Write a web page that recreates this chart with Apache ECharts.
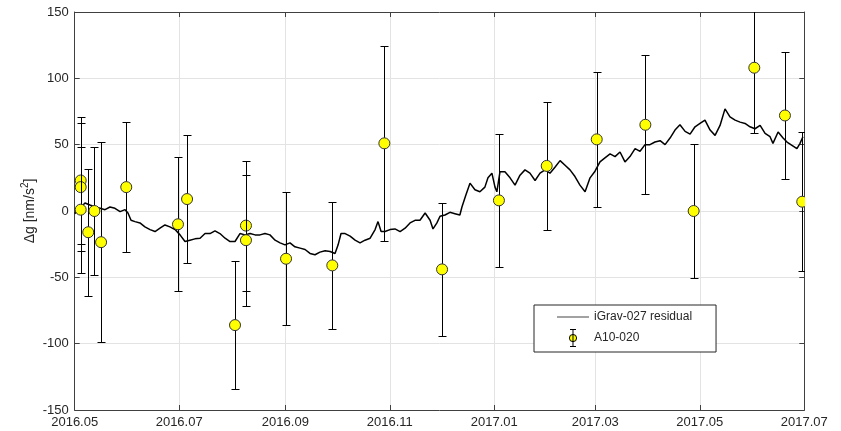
<!DOCTYPE html>
<html>
<head>
<meta charset="utf-8">
<script src="https://cdn.jsdelivr.net/npm/echarts@6/dist/echarts.min.js"></script>
<style>
  html, body { margin: 0; padding: 0; background: #fff; }
  #container { width: 841px; height: 431px; }
</style>
</head>
<body>
<div id="container"></div>
<script>
// days after 2016-05-01 and the iGrav-027 residual
const residualDays = [0, 3.1, 6, 8.9, 11.9, 14.8, 17.7, 20.6, 23.5, 26.5, 29.4, 31.1, 32.9, 35.2, 38.1, 41, 44, 46.9, 49.8, 52.7,
  55.6, 58.6, 61.5, 64.4, 67.3, 70.2, 73.2, 76.1, 79, 81.9, 84.8, 87.8, 90.7, 93.6, 96.5, 99.4, 102.4, 105.3, 108.2, 111.1,
  114, 117, 119.9, 122.8, 125.7, 128.6, 131.6, 134.5, 137.4, 140.3, 143.2, 146.2, 149.1, 152, 153.8, 155.5, 157.9, 160.8, 163.7, 166.6,
  169.5, 172.5, 175.4, 177.1, 178.9, 181.2, 184.1, 187, 190, 192.9, 195.8, 198.7, 201.6, 204.6, 207.5, 209.2, 211.5, 213.3, 216.2, 219.1,
  222, 224.9, 226.1, 228.4, 230.8, 233.7, 236.6, 239.5, 241.3, 243.6, 245.4, 246.5, 248.3, 251.2, 254.2, 257.1, 260, 262.9, 265.8, 268.8,
  271.7, 274.6, 277.5, 280.4, 283.4, 286.3, 289.2, 292.1, 295, 298, 300.9, 303.8, 306.7, 309.6, 312.6, 315.5, 318.4, 321.3, 324.2, 327.2,
  330.1, 333, 335.9, 338.8, 341.8, 344.7, 347.6, 350.5, 353.4, 356.4, 359.3, 362.2, 365.1, 368, 371, 373.9, 376.8, 379.7, 382.6, 385.6,
  388.5, 391.4, 394.3, 397.2, 400.2, 403.1, 406, 407.7, 410.7, 413.6, 415.9, 418.8, 421.7, 423.5, 425.2];
const residualValues = [-2, 2, 6, 4.5, 3, 2, 1, 3, 2, -0.5, 1, -1.5, -7, -8, -9, -12, -14, -15.5, -13, -10.5,
  -12, -14, -18, -23, -22, -21, -20.5, -17, -17, -15, -17, -20.5, -23, -23, -17, -18, -17, -18, -18, -17,
  -18, -22, -24, -25.5, -24, -27, -28, -29, -32, -33, -31, -30, -30.5, -32, -25.5, -17, -17, -19, -22, -24,
  -22, -20.5, -14, -8, -15.5, -15.5, -14, -13.5, -15.5, -13, -9, -7, -7, -1.5, -7, -13.5, -9, -4, -3, -1,
  -2, -3, 3, 12, 21, 16, 14.5, 18, 25, 28.5, 18, 14.5, 29.5, 29.5, 25, 19.5, 27, 31, 28.5, 23,
  28.5, 31, 28.5, 33, 38, 34.5, 31, 26, 19.5, 14.5, 25, 30, 37, 40, 43, 41, 44.5, 37, 41, 47,
  45, 50, 50, 52, 53, 50, 55, 61, 65, 60, 58, 63.5, 66, 68.5, 61, 57, 64.5, 77, 71, 68.5,
  67, 66, 63.5, 62, 64.5, 58.5, 56, 51, 59.5, 55, 52, 49.5, 47, 51, 56];

// A10-020 absolute gravity points: days after 2016-05-01, value, error
const a10Days = [3.5, 3.5, 3.5, 7.9, 11.5, 15.4, 30.1, 60.3, 65.6, 93.6, 100, 100, 123.4, 150.4, 180.8, 214.5,
  247.7, 275.6, 304.8, 333.2, 361.4, 396.8, 414.7, 424.8];
const a10Values = [23, 18, 1, -16, 0, -23.5, 18, -10, 9, -86, -11, -22, -36, -41, 51, -44,
  8, 34, 54, 65, 0, 108, 72, 7];
const a10Errors = [47.5, 48, 47.5, 48, 48, 75.5, 49, 50.5, 48, 48, 49, 49.5, 50, 48, 73.5, 50,
  50, 48, 51, 52.5, 50.5, 49, 48, 52.5];

const yTicks = { min: -150, max: 150, step: 50 };

const DAY = 86400000;
const t0 = new Date(2016, 4, 1).getTime();
const t1 = new Date(2017, 6, 1).getTime();
const toTime = d => t0 + d * DAY;

const lineData = residualDays.map((d, i) => [toTime(d), residualValues[i]]);
const pointData = a10Days.map((d, i) => [toTime(d), a10Values[i], a10Errors[i]]);

const axisColor = '#404040';
const textColor = '#262626';
const font = 'Liberation Sans, Arial, Helvetica, sans-serif';

const myChart = echarts.init(document.getElementById('container'));

const option = {
  animation: false,
  textStyle: { fontFamily: font },
  grid: { left: 74.7, right: 36.7, top: 12, bottom: 21 },
  legend: {
    orient: 'vertical',
    left: 534,
    top: 305,
    padding: [6, 24, 5, 23],
    itemWidth: 32,
    itemHeight: 17,
    itemGap: 6,
    backgroundColor: '#fff',
    borderColor: '#262626',
    borderWidth: 1,
    borderRadius: 0,
    textStyle: { fontSize: 12, color: textColor, fontFamily: font },
    data: [
      {
        name: 'iGrav-027 residual',
        icon: 'path://M0,0H32V1H0Z',
        itemStyle: { color: '#444', borderWidth: 0 }
      },
      {
        name: 'A10-020',
        icon: 'path://M1,0L7,0M4,0L4,17M1,17L7,17M7.6,8.5A3.6,3.6,0,1,1,7.599,8.45Z',
        itemStyle: { color: '#ffff00', borderColor: '#000', borderWidth: 1 }
      }
    ]
  },
  xAxis: [
    {
      type: 'time',
      min: t0,
      max: t1,
      splitNumber: 7,
      axisLine: { show: true, onZero: false, lineStyle: { color: axisColor } },
      axisTick: { show: true, inside: true, length: 5, lineStyle: { color: axisColor } },
      axisLabel: {
        color: textColor,
        fontSize: 13,
        margin: 6,
        showMinLabel: true,
        showMaxLabel: true,
        formatter: v => echarts.time.format(v, '{yyyy}.{MM}', false)
      },
      splitLine: { show: true, lineStyle: { color: '#e3e3e3' } }
    },
    {
      type: 'time',
      position: 'top',
      min: t0,
      max: t1,
      splitNumber: 7,
      axisLine: { show: true, onZero: false, lineStyle: { color: axisColor } },
      axisTick: { show: true, inside: true, length: 5, lineStyle: { color: axisColor } },
      axisLabel: { show: false },
      splitLine: { show: false }
    }
  ],
  yAxis: [
    {
      type: 'value',
      min: yTicks.min,
      max: yTicks.max,
      interval: yTicks.step,
      name: 'Δg [nm/s{sup|2}]',
      nameLocation: 'middle',
      nameGap: 36,
      nameMoveOverlap: false,
      nameTextStyle: {
        color: textColor,
        fontSize: 14,
        rich: { sup: { fontSize: 10, verticalAlign: 'top', padding: [0, 0, 8, 0], color: textColor } }
      },
      axisLine: { show: true, lineStyle: { color: axisColor } },
      axisTick: { show: true, inside: true, length: 5, lineStyle: { color: axisColor } },
      axisLabel: { color: textColor, fontSize: 13, margin: 6 },
      splitLine: { show: true, lineStyle: { color: '#e3e3e3' } }
    },
    {
      type: 'value',
      position: 'right',
      min: yTicks.min,
      max: yTicks.max,
      interval: yTicks.step,
      axisLine: { show: true, lineStyle: { color: axisColor } },
      axisTick: { show: true, inside: true, length: 5, lineStyle: { color: axisColor } },
      axisLabel: { show: false },
      splitLine: { show: false }
    }
  ],
  series: [
    {
      name: 'iGrav-027 residual',
      type: 'line',
      symbol: 'none',
      data: lineData,
      lineStyle: { color: '#000', width: 1.5 },
      itemStyle: { color: '#000' },
      z: 2
    },
    {
      name: 'A10-020',
      type: 'custom',
      clip: true,
      data: pointData,
      encode: { x: 0, y: 1 },
      itemStyle: { color: '#ffff00' },
      z: 3,
      renderItem: (params, api) => {
        const x = api.value(0);
        const v = api.value(1);
        const e = api.value(2);
        const top = api.coord([x, v + e]);
        const bot = api.coord([x, v - e]);
        const c = api.coord([x, v]);
        const px = Math.round(c[0]) + 0.5;
        const ty = Math.round(top[1]) + 0.5;
        const by = Math.round(bot[1]) + 0.5;
        const hw = 4;
        const stroke = { stroke: '#000', lineWidth: 1 };
        return {
          type: 'group',
          children: [
            { type: 'line', shape: { x1: px, y1: ty, x2: px, y2: by }, style: stroke },
            { type: 'line', shape: { x1: px - hw, y1: ty, x2: px + hw, y2: ty }, style: stroke },
            { type: 'line', shape: { x1: px - hw, y1: by, x2: px + hw, y2: by }, style: stroke },
            { type: 'circle', shape: { cx: c[0], cy: c[1], r: 5.5 }, style: { fill: '#ffff00', stroke: '#333', lineWidth: 1 } }
          ]
        };
      }
    }
  ]
};

myChart.setOption(option);
</script>
</body>
</html>
